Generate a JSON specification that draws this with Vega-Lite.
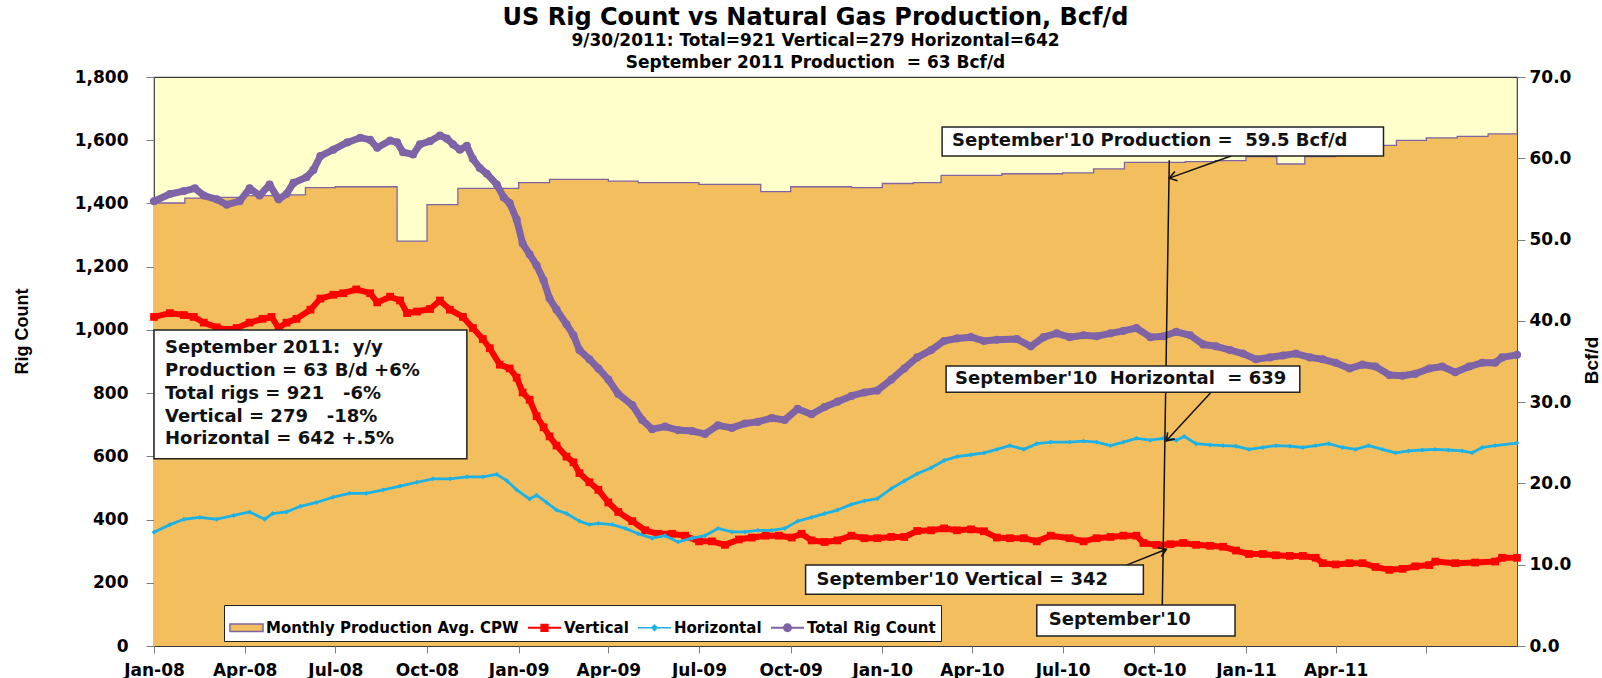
{
  "$schema": "https://vega.github.io/schema/vega-lite/v6.json",
  "width": 1363,
  "height": 569,
  "autosize": {"type": "none"},
  "padding": {"left": 154, "top": 77, "right": 85, "bottom": 32},
  "background": "white",
  "config": {
    "view": {"fill": "#FFFFCC", "stroke": "#3A3A3A", "strokeWidth": 1.2},
    "axis": {"labelFont": "DejaVu Sans", "labelFontSize": 17, "labelFontWeight": "bold", "labelColor": "#000", "titleColor": "#000", "grid": false, "domainColor": "#808080", "tickColor": "#808080", "tickSize": 8}
  },
  "title": {
    "text": "US Rig Count vs Natural Gas Production, Bcf/d",
    "subtitle": ["9/30/2011: Total=921 Vertical=279 Horizontal=642", "September 2011 Production\u00a0 = 63 Bcf/d"],
    "anchor": "middle", "frame": "group", "dx": -20, "offset": -3,
    "font": "DejaVu Sans", "fontSize": 24, "fontWeight": "bold", "color": "#000",
    "subtitleFont": "DejaVu Sans", "subtitleFontSize": 17, "subtitleFontWeight": "bold", "subtitleColor": "#000",
    "subtitlePadding": 3, "subtitleLineHeight": 22
  },
  "datasets": {
    "prod": [
      {"d": "2008-01-01", "p": 54.5}, {"d": "2008-02-01", "p": 55.1}, {"d": "2008-03-01", "p": 55.2}, {"d": "2008-04-01", "p": 55.4},
      {"d": "2008-05-01", "p": 55.5}, {"d": "2008-06-01", "p": 56.4}, {"d": "2008-07-01", "p": 56.5}, {"d": "2008-08-01", "p": 56.5},
      {"d": "2008-09-01", "p": 49.8}, {"d": "2008-10-01", "p": 54.3}, {"d": "2008-11-01", "p": 56.3}, {"d": "2008-12-01", "p": 56.3},
      {"d": "2009-01-01", "p": 57.0}, {"d": "2009-02-01", "p": 57.4}, {"d": "2009-03-01", "p": 57.4}, {"d": "2009-04-01", "p": 57.2},
      {"d": "2009-05-01", "p": 57.0}, {"d": "2009-06-01", "p": 57.0}, {"d": "2009-07-01", "p": 56.8}, {"d": "2009-08-01", "p": 56.8},
      {"d": "2009-09-01", "p": 55.9}, {"d": "2009-10-01", "p": 56.5}, {"d": "2009-11-01", "p": 56.5}, {"d": "2009-12-01", "p": 56.4},
      {"d": "2010-01-01", "p": 56.9}, {"d": "2010-02-01", "p": 57.0}, {"d": "2010-03-01", "p": 57.9}, {"d": "2010-04-01", "p": 57.9},
      {"d": "2010-05-01", "p": 58.1}, {"d": "2010-06-01", "p": 58.1}, {"d": "2010-07-01", "p": 58.2}, {"d": "2010-08-01", "p": 58.7},
      {"d": "2010-09-01", "p": 59.5}, {"d": "2010-10-01", "p": 59.5}, {"d": "2010-11-01", "p": 59.6}, {"d": "2010-12-01", "p": 59.7},
      {"d": "2011-01-01", "p": 60.2}, {"d": "2011-02-01", "p": 59.3}, {"d": "2011-03-01", "p": 60.2}, {"d": "2011-04-01", "p": 61.0},
      {"d": "2011-05-01", "p": 61.6}, {"d": "2011-06-01", "p": 62.2}, {"d": "2011-07-01", "p": 62.5}, {"d": "2011-08-01", "p": 62.7},
      {"d": "2011-09-01", "p": 63.0}, {"d": "2011-09-30", "p": 63.0}
    ],
    "rigs": [
      {"s": "Total Rig Count", "d": "2008-01-01", "v": 1407}, {"s": "Total Rig Count", "d": "2008-01-17", "v": 1430}, {"s": "Total Rig Count", "d": "2008-01-31", "v": 1439},
      {"s": "Total Rig Count", "d": "2008-02-11", "v": 1448}, {"s": "Total Rig Count", "d": "2008-02-20", "v": 1425}, {"s": "Total Rig Count", "d": "2008-03-04", "v": 1413},
      {"s": "Total Rig Count", "d": "2008-03-14", "v": 1396}, {"s": "Total Rig Count", "d": "2008-03-27", "v": 1407}, {"s": "Total Rig Count", "d": "2008-04-06", "v": 1448},
      {"s": "Total Rig Count", "d": "2008-04-16", "v": 1425}, {"s": "Total Rig Count", "d": "2008-04-26", "v": 1460}, {"s": "Total Rig Count", "d": "2008-05-05", "v": 1413},
      {"s": "Total Rig Count", "d": "2008-05-13", "v": 1430}, {"s": "Total Rig Count", "d": "2008-05-20", "v": 1465}, {"s": "Total Rig Count", "d": "2008-06-02", "v": 1483},
      {"s": "Total Rig Count", "d": "2008-06-09", "v": 1506}, {"s": "Total Rig Count", "d": "2008-06-16", "v": 1550}, {"s": "Total Rig Count", "d": "2008-06-29", "v": 1570},
      {"s": "Total Rig Count", "d": "2008-07-13", "v": 1593}, {"s": "Total Rig Count", "d": "2008-07-26", "v": 1608}, {"s": "Total Rig Count", "d": "2008-08-05", "v": 1601},
      {"s": "Total Rig Count", "d": "2008-08-12", "v": 1576}, {"s": "Total Rig Count", "d": "2008-08-25", "v": 1599}, {"s": "Total Rig Count", "d": "2008-09-01", "v": 1593},
      {"s": "Total Rig Count", "d": "2008-09-07", "v": 1562}, {"s": "Total Rig Count", "d": "2008-09-17", "v": 1555}, {"s": "Total Rig Count", "d": "2008-09-24", "v": 1587},
      {"s": "Total Rig Count", "d": "2008-10-04", "v": 1597}, {"s": "Total Rig Count", "d": "2008-10-14", "v": 1615}, {"s": "Total Rig Count", "d": "2008-10-21", "v": 1605},
      {"s": "Total Rig Count", "d": "2008-10-27", "v": 1587}, {"s": "Total Rig Count", "d": "2008-11-03", "v": 1570}, {"s": "Total Rig Count", "d": "2008-11-10", "v": 1582},
      {"s": "Total Rig Count", "d": "2008-11-16", "v": 1541}, {"s": "Total Rig Count", "d": "2008-11-23", "v": 1512}, {"s": "Total Rig Count", "d": "2008-11-30", "v": 1494},
      {"s": "Total Rig Count", "d": "2008-12-10", "v": 1460}, {"s": "Total Rig Count", "d": "2008-12-17", "v": 1419}, {"s": "Total Rig Count", "d": "2008-12-23", "v": 1401},
      {"s": "Total Rig Count", "d": "2008-12-30", "v": 1349}, {"s": "Total Rig Count", "d": "2009-01-05", "v": 1273}, {"s": "Total Rig Count", "d": "2009-01-12", "v": 1239},
      {"s": "Total Rig Count", "d": "2009-01-19", "v": 1204}, {"s": "Total Rig Count", "d": "2009-01-26", "v": 1157}, {"s": "Total Rig Count", "d": "2009-02-01", "v": 1099},
      {"s": "Total Rig Count", "d": "2009-02-08", "v": 1064}, {"s": "Total Rig Count", "d": "2009-02-18", "v": 1018}, {"s": "Total Rig Count", "d": "2009-02-25", "v": 983},
      {"s": "Total Rig Count", "d": "2009-03-03", "v": 936}, {"s": "Total Rig Count", "d": "2009-03-13", "v": 907}, {"s": "Total Rig Count", "d": "2009-03-22", "v": 878},
      {"s": "Total Rig Count", "d": "2009-04-01", "v": 843}, {"s": "Total Rig Count", "d": "2009-04-11", "v": 797}, {"s": "Total Rig Count", "d": "2009-04-25", "v": 762},
      {"s": "Total Rig Count", "d": "2009-05-05", "v": 715}, {"s": "Total Rig Count", "d": "2009-05-15", "v": 686}, {"s": "Total Rig Count", "d": "2009-05-28", "v": 694},
      {"s": "Total Rig Count", "d": "2009-06-10", "v": 683}, {"s": "Total Rig Count", "d": "2009-06-24", "v": 680}, {"s": "Total Rig Count", "d": "2009-07-07", "v": 671},
      {"s": "Total Rig Count", "d": "2009-07-20", "v": 698}, {"s": "Total Rig Count", "d": "2009-08-03", "v": 690}, {"s": "Total Rig Count", "d": "2009-08-16", "v": 704},
      {"s": "Total Rig Count", "d": "2009-08-29", "v": 709}, {"s": "Total Rig Count", "d": "2009-09-12", "v": 721}, {"s": "Total Rig Count", "d": "2009-09-25", "v": 715},
      {"s": "Total Rig Count", "d": "2009-10-08", "v": 750}, {"s": "Total Rig Count", "d": "2009-10-22", "v": 733}, {"s": "Total Rig Count", "d": "2009-11-04", "v": 756},
      {"s": "Total Rig Count", "d": "2009-11-17", "v": 773}, {"s": "Total Rig Count", "d": "2009-12-01", "v": 791}, {"s": "Total Rig Count", "d": "2009-12-14", "v": 802},
      {"s": "Total Rig Count", "d": "2009-12-27", "v": 808}, {"s": "Total Rig Count", "d": "2010-01-10", "v": 843}, {"s": "Total Rig Count", "d": "2010-01-23", "v": 878},
      {"s": "Total Rig Count", "d": "2010-02-05", "v": 913}, {"s": "Total Rig Count", "d": "2010-02-19", "v": 936}, {"s": "Total Rig Count", "d": "2010-03-04", "v": 965},
      {"s": "Total Rig Count", "d": "2010-03-17", "v": 973}, {"s": "Total Rig Count", "d": "2010-03-31", "v": 977}, {"s": "Total Rig Count", "d": "2010-04-13", "v": 965},
      {"s": "Total Rig Count", "d": "2010-04-26", "v": 969}, {"s": "Total Rig Count", "d": "2010-05-16", "v": 971}, {"s": "Total Rig Count", "d": "2010-05-30", "v": 948},
      {"s": "Total Rig Count", "d": "2010-06-12", "v": 977}, {"s": "Total Rig Count", "d": "2010-06-25", "v": 989}, {"s": "Total Rig Count", "d": "2010-07-08", "v": 977},
      {"s": "Total Rig Count", "d": "2010-07-22", "v": 983}, {"s": "Total Rig Count", "d": "2010-08-04", "v": 980}, {"s": "Total Rig Count", "d": "2010-08-18", "v": 989},
      {"s": "Total Rig Count", "d": "2010-08-31", "v": 997}, {"s": "Total Rig Count", "d": "2010-09-13", "v": 1006}, {"s": "Total Rig Count", "d": "2010-09-27", "v": 977},
      {"s": "Total Rig Count", "d": "2010-10-10", "v": 980}, {"s": "Total Rig Count", "d": "2010-10-23", "v": 994}, {"s": "Total Rig Count", "d": "2010-11-06", "v": 983},
      {"s": "Total Rig Count", "d": "2010-11-19", "v": 954}, {"s": "Total Rig Count", "d": "2010-12-02", "v": 948}, {"s": "Total Rig Count", "d": "2010-12-16", "v": 936},
      {"s": "Total Rig Count", "d": "2010-12-29", "v": 925}, {"s": "Total Rig Count", "d": "2011-01-11", "v": 907}, {"s": "Total Rig Count", "d": "2011-01-25", "v": 913},
      {"s": "Total Rig Count", "d": "2011-02-07", "v": 919}, {"s": "Total Rig Count", "d": "2011-02-20", "v": 925}, {"s": "Total Rig Count", "d": "2011-03-06", "v": 913},
      {"s": "Total Rig Count", "d": "2011-03-19", "v": 907}, {"s": "Total Rig Count", "d": "2011-04-01", "v": 896}, {"s": "Total Rig Count", "d": "2011-04-15", "v": 878},
      {"s": "Total Rig Count", "d": "2011-04-28", "v": 890}, {"s": "Total Rig Count", "d": "2011-05-11", "v": 884}, {"s": "Total Rig Count", "d": "2011-05-25", "v": 857},
      {"s": "Total Rig Count", "d": "2011-06-07", "v": 855}, {"s": "Total Rig Count", "d": "2011-06-20", "v": 861}, {"s": "Total Rig Count", "d": "2011-07-04", "v": 878},
      {"s": "Total Rig Count", "d": "2011-07-17", "v": 884}, {"s": "Total Rig Count", "d": "2011-07-30", "v": 866}, {"s": "Total Rig Count", "d": "2011-08-13", "v": 884},
      {"s": "Total Rig Count", "d": "2011-08-26", "v": 896}, {"s": "Total Rig Count", "d": "2011-09-08", "v": 896}, {"s": "Total Rig Count", "d": "2011-09-15", "v": 913},
      {"s": "Total Rig Count", "d": "2011-09-30", "v": 921},

      {"s": "Vertical", "d": "2008-01-01", "v": 1041}, {"s": "Vertical", "d": "2008-01-17", "v": 1053}, {"s": "Vertical", "d": "2008-01-31", "v": 1047},
      {"s": "Vertical", "d": "2008-02-10", "v": 1041}, {"s": "Vertical", "d": "2008-02-20", "v": 1023}, {"s": "Vertical", "d": "2008-03-04", "v": 1008},
      {"s": "Vertical", "d": "2008-03-14", "v": 1000}, {"s": "Vertical", "d": "2008-03-24", "v": 1006}, {"s": "Vertical", "d": "2008-04-06", "v": 1023},
      {"s": "Vertical", "d": "2008-04-19", "v": 1035}, {"s": "Vertical", "d": "2008-04-28", "v": 1041}, {"s": "Vertical", "d": "2008-05-05", "v": 1006},
      {"s": "Vertical", "d": "2008-05-13", "v": 1023}, {"s": "Vertical", "d": "2008-05-23", "v": 1035}, {"s": "Vertical", "d": "2008-06-06", "v": 1064},
      {"s": "Vertical", "d": "2008-06-16", "v": 1099}, {"s": "Vertical", "d": "2008-06-29", "v": 1111}, {"s": "Vertical", "d": "2008-07-09", "v": 1116},
      {"s": "Vertical", "d": "2008-07-22", "v": 1128}, {"s": "Vertical", "d": "2008-08-05", "v": 1116}, {"s": "Vertical", "d": "2008-08-12", "v": 1087},
      {"s": "Vertical", "d": "2008-08-25", "v": 1105}, {"s": "Vertical", "d": "2008-09-04", "v": 1093}, {"s": "Vertical", "d": "2008-09-11", "v": 1053},
      {"s": "Vertical", "d": "2008-09-21", "v": 1058}, {"s": "Vertical", "d": "2008-10-04", "v": 1066}, {"s": "Vertical", "d": "2008-10-14", "v": 1093},
      {"s": "Vertical", "d": "2008-10-24", "v": 1064}, {"s": "Vertical", "d": "2008-11-06", "v": 1041}, {"s": "Vertical", "d": "2008-11-16", "v": 1006},
      {"s": "Vertical", "d": "2008-11-26", "v": 971}, {"s": "Vertical", "d": "2008-12-03", "v": 942}, {"s": "Vertical", "d": "2008-12-13", "v": 890},
      {"s": "Vertical", "d": "2008-12-23", "v": 878}, {"s": "Vertical", "d": "2008-12-30", "v": 849}, {"s": "Vertical", "d": "2009-01-05", "v": 802},
      {"s": "Vertical", "d": "2009-01-12", "v": 779}, {"s": "Vertical", "d": "2009-01-19", "v": 727}, {"s": "Vertical", "d": "2009-01-26", "v": 692},
      {"s": "Vertical", "d": "2009-02-01", "v": 663}, {"s": "Vertical", "d": "2009-02-08", "v": 634}, {"s": "Vertical", "d": "2009-02-18", "v": 599},
      {"s": "Vertical", "d": "2009-02-25", "v": 581}, {"s": "Vertical", "d": "2009-03-03", "v": 547}, {"s": "Vertical", "d": "2009-03-13", "v": 518},
      {"s": "Vertical", "d": "2009-03-22", "v": 494}, {"s": "Vertical", "d": "2009-04-01", "v": 454}, {"s": "Vertical", "d": "2009-04-11", "v": 424},
      {"s": "Vertical", "d": "2009-04-25", "v": 395}, {"s": "Vertical", "d": "2009-05-08", "v": 366}, {"s": "Vertical", "d": "2009-05-21", "v": 355},
      {"s": "Vertical", "d": "2009-06-04", "v": 355}, {"s": "Vertical", "d": "2009-06-17", "v": 349}, {"s": "Vertical", "d": "2009-07-01", "v": 331},
      {"s": "Vertical", "d": "2009-07-14", "v": 331}, {"s": "Vertical", "d": "2009-07-27", "v": 320}, {"s": "Vertical", "d": "2009-08-10", "v": 337},
      {"s": "Vertical", "d": "2009-08-23", "v": 343}, {"s": "Vertical", "d": "2009-09-06", "v": 349}, {"s": "Vertical", "d": "2009-09-19", "v": 349},
      {"s": "Vertical", "d": "2009-10-02", "v": 343}, {"s": "Vertical", "d": "2009-10-12", "v": 355}, {"s": "Vertical", "d": "2009-10-22", "v": 334},
      {"s": "Vertical", "d": "2009-11-04", "v": 329}, {"s": "Vertical", "d": "2009-11-17", "v": 334}, {"s": "Vertical", "d": "2009-12-01", "v": 349},
      {"s": "Vertical", "d": "2009-12-14", "v": 341}, {"s": "Vertical", "d": "2009-12-27", "v": 341}, {"s": "Vertical", "d": "2010-01-10", "v": 345},
      {"s": "Vertical", "d": "2010-01-23", "v": 345}, {"s": "Vertical", "d": "2010-02-05", "v": 364}, {"s": "Vertical", "d": "2010-02-19", "v": 366},
      {"s": "Vertical", "d": "2010-03-04", "v": 372}, {"s": "Vertical", "d": "2010-03-17", "v": 366}, {"s": "Vertical", "d": "2010-03-31", "v": 369},
      {"s": "Vertical", "d": "2010-04-13", "v": 363}, {"s": "Vertical", "d": "2010-04-26", "v": 343}, {"s": "Vertical", "d": "2010-05-09", "v": 341},
      {"s": "Vertical", "d": "2010-05-23", "v": 341}, {"s": "Vertical", "d": "2010-06-05", "v": 331}, {"s": "Vertical", "d": "2010-06-19", "v": 349},
      {"s": "Vertical", "d": "2010-07-08", "v": 341}, {"s": "Vertical", "d": "2010-07-22", "v": 331}, {"s": "Vertical", "d": "2010-08-04", "v": 341},
      {"s": "Vertical", "d": "2010-08-18", "v": 345}, {"s": "Vertical", "d": "2010-08-31", "v": 349}, {"s": "Vertical", "d": "2010-09-13", "v": 349},
      {"s": "Vertical", "d": "2010-09-20", "v": 326}, {"s": "Vertical", "d": "2010-10-03", "v": 320}, {"s": "Vertical", "d": "2010-10-17", "v": 322},
      {"s": "Vertical", "d": "2010-10-30", "v": 326}, {"s": "Vertical", "d": "2010-11-12", "v": 320}, {"s": "Vertical", "d": "2010-11-26", "v": 317},
      {"s": "Vertical", "d": "2010-12-09", "v": 314}, {"s": "Vertical", "d": "2010-12-22", "v": 302}, {"s": "Vertical", "d": "2011-01-04", "v": 291},
      {"s": "Vertical", "d": "2011-01-18", "v": 291}, {"s": "Vertical", "d": "2011-01-31", "v": 287}, {"s": "Vertical", "d": "2011-02-14", "v": 285},
      {"s": "Vertical", "d": "2011-02-27", "v": 285}, {"s": "Vertical", "d": "2011-03-12", "v": 279}, {"s": "Vertical", "d": "2011-03-19", "v": 262},
      {"s": "Vertical", "d": "2011-04-01", "v": 258}, {"s": "Vertical", "d": "2011-04-15", "v": 262}, {"s": "Vertical", "d": "2011-04-28", "v": 262},
      {"s": "Vertical", "d": "2011-05-11", "v": 250}, {"s": "Vertical", "d": "2011-05-25", "v": 241}, {"s": "Vertical", "d": "2011-06-07", "v": 244},
      {"s": "Vertical", "d": "2011-06-20", "v": 252}, {"s": "Vertical", "d": "2011-07-04", "v": 256}, {"s": "Vertical", "d": "2011-07-10", "v": 267},
      {"s": "Vertical", "d": "2011-07-30", "v": 262}, {"s": "Vertical", "d": "2011-08-19", "v": 264}, {"s": "Vertical", "d": "2011-09-08", "v": 267},
      {"s": "Vertical", "d": "2011-09-15", "v": 279}, {"s": "Vertical", "d": "2011-09-30", "v": 279},

      {"s": "Horizontal", "d": "2008-01-01", "v": 360}, {"s": "Horizontal", "d": "2008-01-17", "v": 384}, {"s": "Horizontal", "d": "2008-01-31", "v": 401},
      {"s": "Horizontal", "d": "2008-02-16", "v": 407}, {"s": "Horizontal", "d": "2008-03-04", "v": 401}, {"s": "Horizontal", "d": "2008-03-21", "v": 413},
      {"s": "Horizontal", "d": "2008-04-06", "v": 424}, {"s": "Horizontal", "d": "2008-04-21", "v": 401}, {"s": "Horizontal", "d": "2008-04-29", "v": 419},
      {"s": "Horizontal", "d": "2008-05-13", "v": 424}, {"s": "Horizontal", "d": "2008-05-27", "v": 442}, {"s": "Horizontal", "d": "2008-06-12", "v": 454},
      {"s": "Horizontal", "d": "2008-06-29", "v": 471}, {"s": "Horizontal", "d": "2008-07-15", "v": 483}, {"s": "Horizontal", "d": "2008-08-01", "v": 483},
      {"s": "Horizontal", "d": "2008-08-18", "v": 494}, {"s": "Horizontal", "d": "2008-09-04", "v": 506}, {"s": "Horizontal", "d": "2008-09-21", "v": 518},
      {"s": "Horizontal", "d": "2008-10-07", "v": 529}, {"s": "Horizontal", "d": "2008-10-24", "v": 529}, {"s": "Horizontal", "d": "2008-11-10", "v": 535},
      {"s": "Horizontal", "d": "2008-11-26", "v": 535}, {"s": "Horizontal", "d": "2008-12-10", "v": 543}, {"s": "Horizontal", "d": "2008-12-20", "v": 523},
      {"s": "Horizontal", "d": "2008-12-30", "v": 494}, {"s": "Horizontal", "d": "2009-01-12", "v": 465}, {"s": "Horizontal", "d": "2009-01-19", "v": 477},
      {"s": "Horizontal", "d": "2009-01-29", "v": 454}, {"s": "Horizontal", "d": "2009-02-08", "v": 430}, {"s": "Horizontal", "d": "2009-02-18", "v": 419},
      {"s": "Horizontal", "d": "2009-03-03", "v": 395}, {"s": "Horizontal", "d": "2009-03-13", "v": 384}, {"s": "Horizontal", "d": "2009-03-22", "v": 388},
      {"s": "Horizontal", "d": "2009-04-05", "v": 384}, {"s": "Horizontal", "d": "2009-04-18", "v": 372}, {"s": "Horizontal", "d": "2009-05-01", "v": 355},
      {"s": "Horizontal", "d": "2009-05-15", "v": 341}, {"s": "Horizontal", "d": "2009-05-28", "v": 349}, {"s": "Horizontal", "d": "2009-06-10", "v": 329},
      {"s": "Horizontal", "d": "2009-06-24", "v": 341}, {"s": "Horizontal", "d": "2009-07-07", "v": 349}, {"s": "Horizontal", "d": "2009-07-20", "v": 372},
      {"s": "Horizontal", "d": "2009-08-03", "v": 361}, {"s": "Horizontal", "d": "2009-08-16", "v": 361}, {"s": "Horizontal", "d": "2009-08-29", "v": 366},
      {"s": "Horizontal", "d": "2009-09-12", "v": 366}, {"s": "Horizontal", "d": "2009-09-25", "v": 372}, {"s": "Horizontal", "d": "2009-10-08", "v": 395},
      {"s": "Horizontal", "d": "2009-10-22", "v": 407}, {"s": "Horizontal", "d": "2009-11-04", "v": 419}, {"s": "Horizontal", "d": "2009-11-17", "v": 430},
      {"s": "Horizontal", "d": "2009-12-01", "v": 448}, {"s": "Horizontal", "d": "2009-12-14", "v": 459}, {"s": "Horizontal", "d": "2009-12-27", "v": 466},
      {"s": "Horizontal", "d": "2010-01-10", "v": 498}, {"s": "Horizontal", "d": "2010-01-23", "v": 522}, {"s": "Horizontal", "d": "2010-02-05", "v": 545},
      {"s": "Horizontal", "d": "2010-02-19", "v": 564}, {"s": "Horizontal", "d": "2010-03-04", "v": 587}, {"s": "Horizontal", "d": "2010-03-17", "v": 599},
      {"s": "Horizontal", "d": "2010-03-31", "v": 605}, {"s": "Horizontal", "d": "2010-04-13", "v": 611}, {"s": "Horizontal", "d": "2010-04-26", "v": 622},
      {"s": "Horizontal", "d": "2010-05-09", "v": 634}, {"s": "Horizontal", "d": "2010-05-23", "v": 622}, {"s": "Horizontal", "d": "2010-06-05", "v": 640},
      {"s": "Horizontal", "d": "2010-06-19", "v": 645}, {"s": "Horizontal", "d": "2010-07-08", "v": 645}, {"s": "Horizontal", "d": "2010-07-22", "v": 648},
      {"s": "Horizontal", "d": "2010-08-04", "v": 645}, {"s": "Horizontal", "d": "2010-08-18", "v": 634}, {"s": "Horizontal", "d": "2010-08-31", "v": 645},
      {"s": "Horizontal", "d": "2010-09-13", "v": 657}, {"s": "Horizontal", "d": "2010-09-27", "v": 651}, {"s": "Horizontal", "d": "2010-10-10", "v": 657},
      {"s": "Horizontal", "d": "2010-10-23", "v": 651}, {"s": "Horizontal", "d": "2010-10-31", "v": 663}, {"s": "Horizontal", "d": "2010-11-12", "v": 640},
      {"s": "Horizontal", "d": "2010-11-26", "v": 636}, {"s": "Horizontal", "d": "2010-12-09", "v": 634}, {"s": "Horizontal", "d": "2010-12-22", "v": 632},
      {"s": "Horizontal", "d": "2011-01-04", "v": 622}, {"s": "Horizontal", "d": "2011-01-18", "v": 628}, {"s": "Horizontal", "d": "2011-01-31", "v": 634},
      {"s": "Horizontal", "d": "2011-02-14", "v": 632}, {"s": "Horizontal", "d": "2011-02-27", "v": 628}, {"s": "Horizontal", "d": "2011-03-12", "v": 634},
      {"s": "Horizontal", "d": "2011-03-25", "v": 640}, {"s": "Horizontal", "d": "2011-04-08", "v": 628}, {"s": "Horizontal", "d": "2011-04-21", "v": 622},
      {"s": "Horizontal", "d": "2011-05-04", "v": 634}, {"s": "Horizontal", "d": "2011-05-18", "v": 622}, {"s": "Horizontal", "d": "2011-05-31", "v": 611},
      {"s": "Horizontal", "d": "2011-06-13", "v": 617}, {"s": "Horizontal", "d": "2011-06-27", "v": 620}, {"s": "Horizontal", "d": "2011-07-10", "v": 622},
      {"s": "Horizontal", "d": "2011-07-23", "v": 620}, {"s": "Horizontal", "d": "2011-08-06", "v": 617}, {"s": "Horizontal", "d": "2011-08-16", "v": 611},
      {"s": "Horizontal", "d": "2011-08-26", "v": 628}, {"s": "Horizontal", "d": "2011-09-08", "v": 634}, {"s": "Horizontal", "d": "2011-09-30", "v": 642}
    ],
    "boxes": [
      {"d": "2008-01-01", "d2": "2008-11-10", "v": 1000, "v2": 592},
      {"d": "2010-03-02", "d2": "2011-05-19", "v": 1642, "v2": 1550},
      {"d": "2010-03-06", "d2": "2011-02-24", "v": 886, "v2": 803},
      {"d": "2009-10-16", "d2": "2010-09-20", "v": 256, "v2": 164},
      {"d": "2010-06-05", "d2": "2010-12-21", "v": 130, "v2": 32}
    ],
    "notes": [
      {"d": "2008-01-12", "v": 943, "t": "September 2011:\u00a0 y/y"},
      {"d": "2008-01-12", "v": 870, "t": "Production = 63 B/d +6%"},
      {"d": "2008-01-12", "v": 797, "t": "Total rigs = 921\u00a0\u00a0 -6%"},
      {"d": "2008-01-12", "v": 724, "t": "Vertical = 279\u00a0\u00a0 -18%"},
      {"d": "2008-01-12", "v": 655, "t": "Horizontal = 642 +.5%"},
      {"d": "2010-03-12", "v": 1597, "t": "September'10 Production =\u00a0 59.5 Bcf/d"},
      {"d": "2010-03-15", "v": 845, "t": "September'10\u00a0 Horizontal\u00a0 = 639"},
      {"d": "2009-10-27", "v": 209, "t": "September'10 Vertical = 342"},
      {"d": "2010-06-17", "v": 82, "t": "September'10"}
    ],
    "links": [
      {"d": "2010-10-16", "v": 1537, "d2": "2010-10-09", "v2": 130},
      {"d": "2010-12-17", "v": 1550, "d2": "2010-10-16", "v2": 1480},
      {"d": "2010-11-27", "v": 803, "d2": "2010-10-13", "v2": 649},
      {"d": "2010-09-03", "v": 256, "d2": "2010-10-13", "v2": 306}
    ],
    "heads": [
      {"k": "prod", "d": "2010-10-16", "v": 1480},
      {"k": "horiz", "d": "2010-10-13", "v": 649},
      {"k": "vert", "d": "2010-10-13", "v": 306}
    ]
  },
  "layer": [
    {
      "data": {"name": "prod"},
      "mark": {"type": "area", "interpolate": "step-after", "color": "#F3BF5E", "opacity": 1, "line": {"color": "#8064A2", "strokeWidth": 1.3}},
      "encoding": {
        "x": {"field": "d", "type": "temporal",
          "scale": {"type": "utc", "domain": [{"year": 2008, "month": 1, "date": 1, "utc": true}, {"year": 2011, "month": 9, "date": 30, "utc": true}]},
          "axis": {"format": "%b-%y", "tickCount": {"interval": "month", "step": 3}, "labelExpr": "datum.label == 'Jul-11' ? '' : datum.label", "labelOverlap": false, "labelFlush": false, "tickSize": 7, "labelPadding": 9, "title": null, "domain": false}},
        "y": {"field": "p", "type": "quantitative",
          "scale": {"domain": [0, 70], "nice": false, "zero": true},
          "axis": {"orient": "right", "values": [0, 10, 20, 30, 40, 50, 60, 70], "format": ".1f", "labelPadding": 4, "title": "Bcf/d", "titleFont": "Liberation Sans Narrow, Arial Narrow, Liberation Sans", "titleFontSize": 19, "titleFontWeight": "bold", "titleAngle": 270, "titleX": 74, "titleY": 283, "titleAlign": "center", "titleBaseline": "middle", "domain": false}}
      }
    },
    {
      "layer": [
        {
          "data": {"name": "rigs"},
          "transform": [{"filter": "datum.s === 'Vertical'"}],
          "mark": {"type": "line", "color": "#FF0000", "strokeWidth": 6, "strokeJoin": "round"},
          "encoding": {
            "x": {"field": "d", "type": "temporal", "scale": {"type": "utc", "domain": [{"year": 2008, "month": 1, "date": 1, "utc": true}, {"year": 2011, "month": 9, "date": 30, "utc": true}]}},
            "y": {"field": "v", "type": "quantitative", "scale": {"domain": [0, 1800], "nice": false},
              "axis": {"values": [0, 200, 400, 600, 800, 1000, 1200, 1400, 1600, 1800], "format": ",d", "labelPadding": 18, "title": "Rig Count", "titleFont": "Liberation Sans Narrow, Arial Narrow, Liberation Sans", "titleFontSize": 18, "titleFontWeight": "bold", "titleAngle": 270, "titleX": -132, "titleY": 254, "titleAlign": "center", "titleBaseline": "middle", "domain": false}}
          }
        },
        {
          "data": {"name": "rigs"},
          "transform": [{"filter": "datum.s === 'Vertical'"}],
          "mark": {"type": "point", "shape": "square", "size": 60, "filled": true, "opacity": 1, "color": "#FF0000"},
          "encoding": {
            "x": {"field": "d", "type": "temporal", "scale": {"type": "utc", "domain": [{"year": 2008, "month": 1, "date": 1, "utc": true}, {"year": 2011, "month": 9, "date": 30, "utc": true}]}},
            "y": {"field": "v", "type": "quantitative", "scale": {"domain": [0, 1800], "nice": false}}
          }
        },
        {
          "data": {"name": "rigs"},
          "transform": [{"filter": "datum.s === 'Horizontal'"}],
          "mark": {"type": "line", "color": "#1DB2E6", "strokeWidth": 2.8, "strokeJoin": "round"},
          "encoding": {
            "x": {"field": "d", "type": "temporal", "scale": {"type": "utc", "domain": [{"year": 2008, "month": 1, "date": 1, "utc": true}, {"year": 2011, "month": 9, "date": 30, "utc": true}]}},
            "y": {"field": "v", "type": "quantitative", "scale": {"domain": [0, 1800], "nice": false}}
          }
        },
        {
          "data": {"name": "rigs"},
          "transform": [{"filter": "datum.s === 'Horizontal'"}],
          "mark": {"type": "point", "shape": "diamond", "size": 24, "filled": true, "opacity": 1, "color": "#1DB2E6"},
          "encoding": {
            "x": {"field": "d", "type": "temporal", "scale": {"type": "utc", "domain": [{"year": 2008, "month": 1, "date": 1, "utc": true}, {"year": 2011, "month": 9, "date": 30, "utc": true}]}},
            "y": {"field": "v", "type": "quantitative", "scale": {"domain": [0, 1800], "nice": false}}
          }
        },
        {
          "data": {"name": "rigs"},
          "transform": [{"filter": "datum.s === 'Total Rig Count'"}],
          "mark": {"type": "line", "color": "#7E63A6", "strokeWidth": 7, "strokeJoin": "round", "strokeCap": "round"},
          "encoding": {
            "x": {"field": "d", "type": "temporal", "scale": {"type": "utc", "domain": [{"year": 2008, "month": 1, "date": 1, "utc": true}, {"year": 2011, "month": 9, "date": 30, "utc": true}]}},
            "y": {"field": "v", "type": "quantitative", "scale": {"domain": [0, 1800], "nice": false}}
          }
        },
        {
          "data": {"name": "rigs"},
          "transform": [{"filter": "datum.s === 'Total Rig Count'"}],
          "mark": {"type": "point", "shape": "circle", "size": 66, "filled": true, "opacity": 1},
          "encoding": {
            "x": {"field": "d", "type": "temporal", "scale": {"type": "utc", "domain": [{"year": 2008, "month": 1, "date": 1, "utc": true}, {"year": 2011, "month": 9, "date": 30, "utc": true}]}},
            "y": {"field": "v", "type": "quantitative", "scale": {"domain": [0, 1800], "nice": false}},
            "color": {"field": "s", "type": "nominal",
              "scale": {"domain": ["Monthly Production Avg. CPW", "Vertical", "Horizontal", "Total Rig Count"], "range": ["#F3BF5E", "#FF0000", "#1DB2E6", "#7E63A6"]},
              "legend": {
                "orient": "none", "legendX": 70, "legendY": 528, "direction": "horizontal", "title": null,
                "fillColor": "white", "strokeColor": "#222", "padding": 5, "columnPadding": 6,
                "labelFont": "DejaVu Sans", "labelFontSize": 15, "labelFontWeight": "bold", "labelColor": "#000", "labelOffset": 2, "labelLimit": 400,
                "symbolSize": 1089, "symbolOpacity": 1,
                "encode": {"symbols": {"update": {
                  "shape": {"signal": "datum.value === 'Monthly Production Avg. CPW' ? 'M-1,-0.22H1V0.22H-1Z' : datum.value === 'Vertical' ? 'M-1,-0.06H1V0.06H-1Z M-0.25,-0.25H0.25V0.25H-0.25Z' : datum.value === 'Horizontal' ? 'M-1,-0.05H1V0.05H-1Z M0,-0.22L0.22,0L0,0.22L-0.22,0Z' : 'M-1,-0.06H1V0.06H-1Z M-0.27,0A0.27,0.27 0 1,1 0.27,0A0.27,0.27 0 1,1 -0.27,0Z'"},
                  "size": {"value": 1089},
                  "stroke": {"signal": "datum.value === 'Monthly Production Avg. CPW' ? '#8064A2' : 'transparent'"},
                  "strokeWidth": {"value": 1.5},
                  "opacity": {"value": 1}
                }}}
              }}
          }
        },
        {
          "data": {"name": "links"},
          "mark": {"type": "rule", "color": "#111", "strokeWidth": 1.5},
          "encoding": {
            "x": {"field": "d", "type": "temporal", "scale": {"type": "utc", "domain": [{"year": 2008, "month": 1, "date": 1, "utc": true}, {"year": 2011, "month": 9, "date": 30, "utc": true}]}},
            "x2": {"field": "d2"},
            "y": {"field": "v", "type": "quantitative", "scale": {"domain": [0, 1800], "nice": false}},
            "y2": {"field": "v2"}
          }
        },
        {
          "data": {"name": "boxes"},
          "mark": {"type": "rect", "fill": "white", "stroke": "#222", "strokeWidth": 1.5},
          "encoding": {
            "x": {"field": "d", "type": "temporal", "scale": {"type": "utc", "domain": [{"year": 2008, "month": 1, "date": 1, "utc": true}, {"year": 2011, "month": 9, "date": 30, "utc": true}]}},
            "x2": {"field": "d2"},
            "y": {"field": "v", "type": "quantitative", "scale": {"domain": [0, 1800], "nice": false}},
            "y2": {"field": "v2"}
          }
        },
        {
          "data": {"name": "notes"},
          "mark": {"type": "text", "align": "left", "baseline": "middle", "font": "DejaVu Sans", "fontSize": 18, "fontWeight": "bold", "color": "#111"},
          "encoding": {
            "x": {"field": "d", "type": "temporal", "scale": {"type": "utc", "domain": [{"year": 2008, "month": 1, "date": 1, "utc": true}, {"year": 2011, "month": 9, "date": 30, "utc": true}]}},
            "y": {"field": "v", "type": "quantitative", "scale": {"domain": [0, 1800], "nice": false}},
            "text": {"field": "t"}
          }
        },
        {
          "data": {"name": "heads"},
          "transform": [{"filter": "datum.k === 'prod'"}],
          "mark": {"type": "point", "shape": "M-0.6,0.9L0,0L0.6,0.9", "size": 256, "filled": false, "stroke": "#111", "strokeWidth": 1.6, "opacity": 1, "angle": 254},
          "encoding": {
            "x": {"field": "d", "type": "temporal", "scale": {"type": "utc", "domain": [{"year": 2008, "month": 1, "date": 1, "utc": true}, {"year": 2011, "month": 9, "date": 30, "utc": true}]}},
            "y": {"field": "v", "type": "quantitative", "scale": {"domain": [0, 1800], "nice": false}}
          }
        },
        {
          "data": {"name": "heads"},
          "transform": [{"filter": "datum.k === 'horiz'"}],
          "mark": {"type": "point", "shape": "M-0.6,0.9L0,0L0.6,0.9", "size": 256, "filled": false, "stroke": "#111", "strokeWidth": 1.6, "opacity": 1, "angle": 223},
          "encoding": {
            "x": {"field": "d", "type": "temporal", "scale": {"type": "utc", "domain": [{"year": 2008, "month": 1, "date": 1, "utc": true}, {"year": 2011, "month": 9, "date": 30, "utc": true}]}},
            "y": {"field": "v", "type": "quantitative", "scale": {"domain": [0, 1800], "nice": false}}
          }
        },
        {
          "data": {"name": "heads"},
          "transform": [{"filter": "datum.k === 'vert'"}],
          "mark": {"type": "point", "shape": "M-0.6,0.9L0,0L0.6,0.9", "size": 256, "filled": false, "stroke": "#111", "strokeWidth": 1.6, "opacity": 1, "angle": 67},
          "encoding": {
            "x": {"field": "d", "type": "temporal", "scale": {"type": "utc", "domain": [{"year": 2008, "month": 1, "date": 1, "utc": true}, {"year": 2011, "month": 9, "date": 30, "utc": true}]}},
            "y": {"field": "v", "type": "quantitative", "scale": {"domain": [0, 1800], "nice": false}}
          }
        }
      ]
    }
  ],
  "resolve": {"scale": {"y": "independent"}}
}
